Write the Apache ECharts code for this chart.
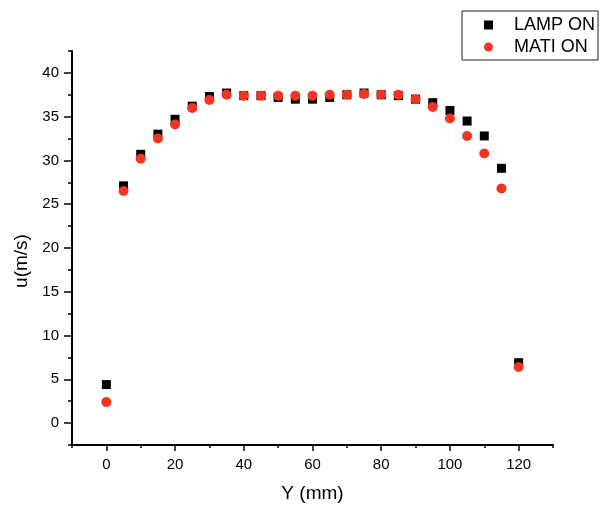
<!DOCTYPE html>
<html>
<head>
<meta charset="utf-8">
<script src="https://cdn.jsdelivr.net/npm/echarts@6/dist/echarts.min.js"></script>
<style>
  html, body { margin: 0; padding: 0; background: #fff; }
  #chart { width: 600px; height: 508px; }
</style>
</head>
<body>
<div id="chart"></div>
<script>
// Velocity profile across the channel, Y in mm
const positions = [0, 5, 10, 15, 20, 25, 30, 35, 40, 45, 50, 55, 60, 65, 70, 75, 80, 85, 90, 95, 100, 105, 110, 115, 120];
const lampOn = [4.4, 27.1, 30.7, 33.0, 34.7, 36.2, 37.3, 37.7, 37.4, 37.4, 37.2, 37.0, 37.0, 37.2, 37.5, 37.7, 37.5, 37.4, 37.0, 36.6, 35.7, 34.5, 32.8, 29.1, 6.9];
const matiOn = [2.4, 26.5, 30.2, 32.5, 34.1, 36.0, 36.9, 37.5, 37.4, 37.4, 37.4, 37.4, 37.4, 37.5, 37.5, 37.6, 37.5, 37.5, 37.0, 36.1, 34.8, 32.8, 30.8, 26.8, 6.4];
const seriesNames = ['LAMP ON', 'MATI ON'];

const xMajor = [0, 20, 40, 60, 80, 100, 120];
const xMinor = [-10, 10, 30, 50, 70, 90, 110, 130];
const yMajor = [0, 5, 10, 15, 20, 25, 30, 35, 40];
const yMinor = [-2.5, 2.5, 7.5, 12.5, 17.5, 22.5, 27.5, 32.5, 37.5, 42.5];

const FONT = 'Liberation Sans, Arial, sans-serif';
const RED = '#f23422';
const pair = (xs, ys) => xs.map((x, i) => [x, ys[i]]);

const chart = echarts.init(document.getElementById('chart'), null, { renderer: 'canvas' });

const axisLine = { show: true, onZero: false, lineStyle: { color: '#000', width: 2 } };
const tickStyle = { color: '#000', width: 1.5 };

chart.setOption({
  animation: false,
  backgroundColor: '#fff',
  grid: { left: 72, right: 47, top: 51, bottom: 63, containLabel: false },
  legend: {
    orient: 'vertical',
    left: 462,
    top: 11,
    width: 135,
    padding: [5, 3, 4, 22],
    itemGap: 4,
    itemWidth: 9,
    itemHeight: 9,
    borderColor: '#222',
    borderWidth: 1,
    textStyle: { fontFamily: FONT, fontSize: 18, color: '#000', padding: [0, 0, 0, 16] },
    data: [
      { name: seriesNames[0], icon: 'rect' },
      { name: seriesNames[1], icon: 'circle', itemStyle: { color: RED } }
    ]
  },
  xAxis: [
    {
      type: 'value', min: -10, max: 130, position: 'bottom',
      name: 'Y (mm)', nameLocation: 'middle', nameGap: 39,
      nameTextStyle: { fontFamily: FONT, fontSize: 19, color: '#000' },
      axisLine: axisLine,
      splitLine: { show: false },
      axisTick: { show: true, length: 6, lineStyle: tickStyle, customValues: xMajor },
      axisLabel: { fontFamily: FONT, fontSize: 15, color: '#000', margin: 12, customValues: xMajor }
    },
    {
      type: 'value', min: -10, max: 130, position: 'bottom', gridIndex: 0,
      axisLine: { show: false, onZero: false },
      splitLine: { show: false },
      axisTick: { show: true, length: 3, lineStyle: tickStyle, customValues: xMinor },
      axisLabel: { show: false, customValues: xMinor }
    }
  ],
  yAxis: [
    {
      type: 'value', min: -2.5, max: 42.5, position: 'left',
      name: 'u(m/s)', nameLocation: 'middle', nameGap: 39, nameRotate: 90,
      nameTextStyle: { fontFamily: FONT, fontSize: 19, color: '#000', padding: [0, 26, 0, 0] },
      axisLine: axisLine,
      splitLine: { show: false },
      axisTick: { show: true, length: 8, lineStyle: tickStyle, customValues: yMajor },
      axisLabel: { fontFamily: FONT, fontSize: 15, color: '#000', margin: 13, customValues: yMajor }
    },
    {
      type: 'value', min: -2.5, max: 42.5, position: 'left', gridIndex: 0,
      axisLine: { show: false, onZero: false },
      splitLine: { show: false },
      axisTick: { show: true, length: 4, lineStyle: tickStyle, customValues: yMinor },
      axisLabel: { show: false, customValues: yMinor }
    }
  ],
  series: [
    {
      name: seriesNames[0], type: 'scatter', symbol: 'rect', symbolSize: 9,
      itemStyle: { color: '#000', opacity: 1 },
      data: pair(positions, lampOn)
    },
    {
      name: seriesNames[1], type: 'scatter', symbol: 'circle', symbolSize: 10,
      itemStyle: { color: RED, opacity: 1 },
      data: pair(positions, matiOn)
    }
  ]
});
</script>
</body>
</html>
